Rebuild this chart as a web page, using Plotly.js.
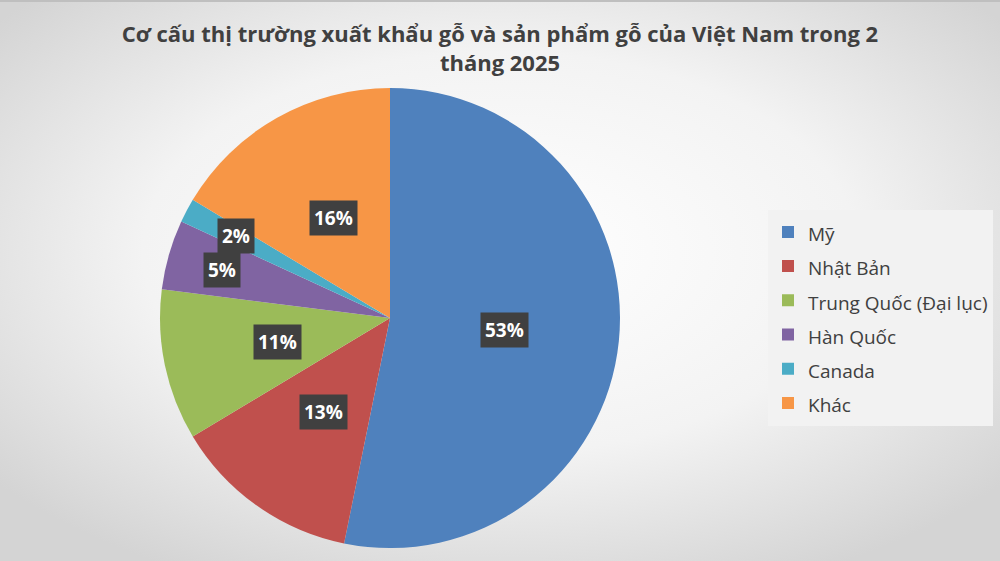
<!DOCTYPE html>
<html>
<head>
<meta charset="utf-8">
<script src="https://cdn.plot.ly/plotly-3.0.1.min.js"></script>
<style>html,body{margin:0;padding:0;background:#fff;}#chart{width:1000px;height:561px;}</style>
</head>
<body>
<div id="chart"></div>
<script>
// Data
var markets = ["Mỹ", "Nhật Bản", "Trung Quốc (Đại lục)", "Hàn Quốc", "Canada", "Khác"];
var shares = [53.2, 13.2, 10.6, 4.9, 1.7, 16.4];
var colors = ["#4F81BD", "#C0504D", "#9BBB59", "#8064A2", "#4BACC6", "#F79646"];
var titleText = "Cơ cấu thị trường xuất khẩu gỗ và sản phẩm gỗ của Việt Nam trong 2<br>tháng 2025";

var W = 1000, H = 561;
var dom = {x: [0.16, 0.62], y: [0.023, 0.843]};

var FONT = "'Open Sans', 'Noto Sans', sans-serif";

var trace = {
  type: "pie",
  labels: markets.map(function(m){ return '<span style="font-size:19px">' + m + '</span>'; }),
  values: shares,
  sort: false,
  direction: "clockwise",
  rotation: 0,
  marker: {colors: colors, line: {width: 0}},
  textinfo: "none",
  hoverinfo: "label+percent",
  domain: dom
};

// Compute label positions from data (angle midpoint of each slice)
var total = shares.reduce(function(a, b){return a + b;}, 0);
var cx = (dom.x[0] + dom.x[1]) / 2, cy = (dom.y[0] + dom.y[1]) / 2;
var rPx = Math.min((dom.x[1] - dom.x[0]) * W, (dom.y[1] - dom.y[0]) * H) / 2;
var annotations = [];
var cum = 0;
shares.forEach(function(v, i){
  var frac = v / total;
  var mid = (cum + frac / 2) * 2 * Math.PI;
  cum += frac;
  var rf = frac < 0.06 ? 0.76 : 0.5;
  var px = Math.sin(mid) * rPx * rf, py = Math.cos(mid) * rPx * rf;
  annotations.push({
    x: cx + px / W, y: cy + py / H, xref: "paper", yref: "paper",
    text: "<b>" + Math.round(frac * 100) + "%</b>",
    showarrow: false,
    font: {family: FONT, size: 19, color: "#ffffff"},
    bgcolor: "#404040",
    borderpad: 4,
    xanchor: "center", yanchor: "middle"
  });
});

var bgSvg = '<svg xmlns="http://www.w3.org/2000/svg" width="1000" height="561">' +
  '<defs><radialGradient id="g" cx="50%" cy="45%" r="65%">' +
  '<stop offset="0%" stop-color="#ffffff"/><stop offset="55%" stop-color="#f3f3f3"/>' +
  '<stop offset="100%" stop-color="#d4d4d4"/></radialGradient></defs>' +
  '<rect width="1000" height="561" fill="url(#g)"/></svg>';

var layout = {
  width: W, height: H,
  margin: {l: 0, r: 0, t: 0, b: 0},
  paper_bgcolor: "#ececec",
  title: {
    text: "<b>" + titleText + "</b>",
    font: {family: FONT, size: 22, color: "#404040"},
    x: 0.5, xanchor: "center", y: 0.925, yanchor: "middle"
  },
  showlegend: true,
  legend: {
    x: 0.768, y: 0.626, xanchor: "left", yanchor: "top",
    font: {family: FONT, size: 24, color: "#404040"},
    bgcolor: "#f2f2f2",
    tracegroupgap: 0,
    itemwidth: 30,
    traceorder: "normal"
  },
  annotations: annotations,
  images: [{
    source: "data:image/svg+xml;charset=utf-8," + encodeURIComponent(bgSvg),
    xref: "paper", yref: "paper", x: 0, y: 1, sizex: 1, sizey: 1,
    sizing: "stretch", layer: "below", xanchor: "left", yanchor: "top"
  }],
  shapes: [{type: "line", xref: "paper", yref: "paper", x0: 0, x1: 1, y0: 0.998, y1: 0.998,
    line: {color: "#bfbfbf", width: 2}}]
};

Plotly.newPlot("chart", [trace], layout, {displayModeBar: false, staticPlot: true});
</script>
</body>
</html>
